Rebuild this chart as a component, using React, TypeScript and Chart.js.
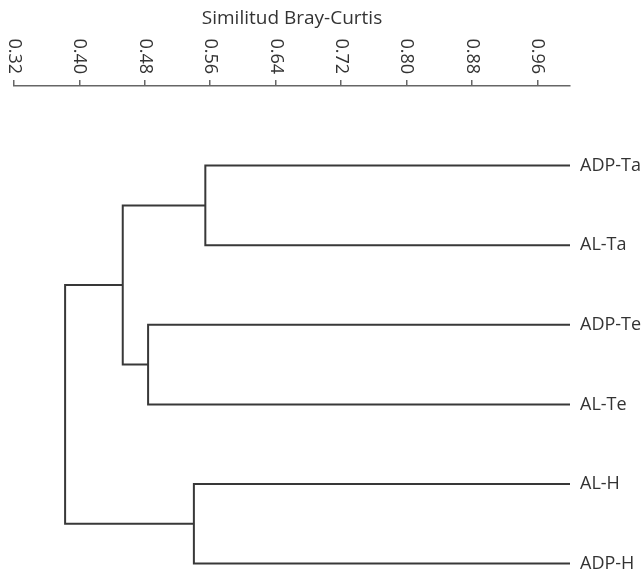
import React, { useEffect, useRef } from "react";
import { Chart, registerables } from "chart.js";

Chart.register(...registerables);

// ---- data ----
const axisTitle = "Similitud Bray-Curtis";
const tickValues = [0.32, 0.4, 0.48, 0.56, 0.64, 0.72, 0.8, 0.88, 0.96];
const tickLabels = ["0.32", "0.40", "0.48", "0.56", "0.64", "0.72", "0.80", "0.88", "0.96"];
const leafLabels = ["ADP-Ta", "AL-Ta", "ADP-Te", "AL-Te", "AL-H", "ADP-H"];
const leafSimilarity = 1.0;
// merges (indices: leaves 0..5, merged clusters 6..10 in order)
const mergeLeft = [0, 2, 4, 6, 9];
const mergeRight = [1, 3, 5, 7, 8];
const mergeSimilarity = [0.554, 0.484, 0.54, 0.453, 0.3825];

const TEXT = "#333333";
const LINE = "#383838";
const AXIS = "#666666";

function buildDatasets() {
  const nodeX: number[] = leafLabels.map(() => leafSimilarity);
  const nodeY: number[] = leafLabels.map((_, i) => i + 1);
  const sets: any[] = [];
  mergeLeft.forEach((a, k) => {
    const b = mergeRight[k];
    const s = mergeSimilarity[k];
    sets.push({
      data: [
        { x: nodeX[a], y: nodeY[a] },
        { x: s, y: nodeY[a] },
        { x: s, y: nodeY[b] },
        { x: nodeX[b], y: nodeY[b] },
      ],
      showLine: true,
      borderColor: LINE,
      borderWidth: 2,
      pointRadius: 0,
      fill: false,
      tension: 0,
      borderJoinStyle: "miter",
      clip: false,
    });
    nodeX.push(s);
    nodeY.push((nodeY[a] + nodeY[b]) / 2);
  });
  return sets;
}

const labelPlugin = {
  id: "dendroLabels",
  afterDraw(chart: any) {
    const { ctx, chartArea } = chart;
    const xs = chart.scales.x;
    ctx.save();
    ctx.fillStyle = TEXT;
    ctx.font = '19px "Open Sans"';
    ctx.textAlign = "center";
    ctx.textBaseline = "alphabetic";
    ctx.fillText(axisTitle, (chartArea.left + chartArea.right) / 2, 23.5);
    ctx.font = '18px "Open Sans"';
    tickValues.forEach((v, i) => {
      const px = xs.getPixelForValue(v);
      ctx.save();
      ctx.translate(px, 74);
      ctx.rotate(Math.PI / 2);
      ctx.textAlign = "right";
      ctx.textBaseline = "middle";
      ctx.fillText(tickLabels[i], 0, 0);
      ctx.restore();
    });
    ctx.restore();
  },
};

export default function App() {
  const ref = useRef<HTMLCanvasElement | null>(null);
  useEffect(() => {
    if (!ref.current) return;
    const chart = new Chart(ref.current, {
      type: "scatter",
      data: { datasets: buildDatasets() },
      options: {
        animation: false,
        responsive: false,
        devicePixelRatio: 1,
        layout: { padding: { left: 14, right: 0, top: 0, bottom: 8.4 } },
        plugins: { legend: { display: false }, tooltip: { enabled: false } },
        scales: {
          x: {
            type: "linear",
            position: "top",
            min: 0.32,
            max: 1.0,
            afterBuildTicks: (s: any) => {
              s.ticks = tickValues.map((v) => ({ value: v }));
            },
            afterFit: (s: any) => {
              s.height = 86;
              s.paddingLeft = 0;
              s.paddingRight = 0;
            },
            ticks: { display: false },
            grid: {
              display: true,
              drawOnChartArea: false,
              drawTicks: true,
              tickLength: 6,
              color: AXIS,
              lineWidth: 1.5,
            },
            border: { display: true, color: AXIS, width: 1.5 },
          },
          y: {
            type: "linear",
            position: "right",
            reverse: true,
            min: 0,
            max: 6.05,
            afterBuildTicks: (s: any) => {
              s.ticks = leafLabels.map((_, i) => ({ value: i + 1 }));
            },
            afterFit: (s: any) => {
              s.width = 72;
              s.paddingTop = 0;
              s.paddingBottom = 0;
            },
            ticks: {
              callback: (v: any) => leafLabels[Math.round(Number(v)) - 1] ?? "",
              color: TEXT,
              font: { family: '"Open Sans"', size: 18 },
              padding: 10,
              autoSkip: false,
            },
            grid: { display: false, drawTicks: false },
            border: { display: false },
          },
        },
      },
      plugins: [labelPlugin],
    } as any);
    return () => chart.destroy();
  }, []);
  return (
    <div style={{ position: "fixed", left: 0, top: 0, width: 642, height: 576, background: "#fff" }}>
      <canvas ref={ref} width={642} height={576} />
    </div>
  );
}
